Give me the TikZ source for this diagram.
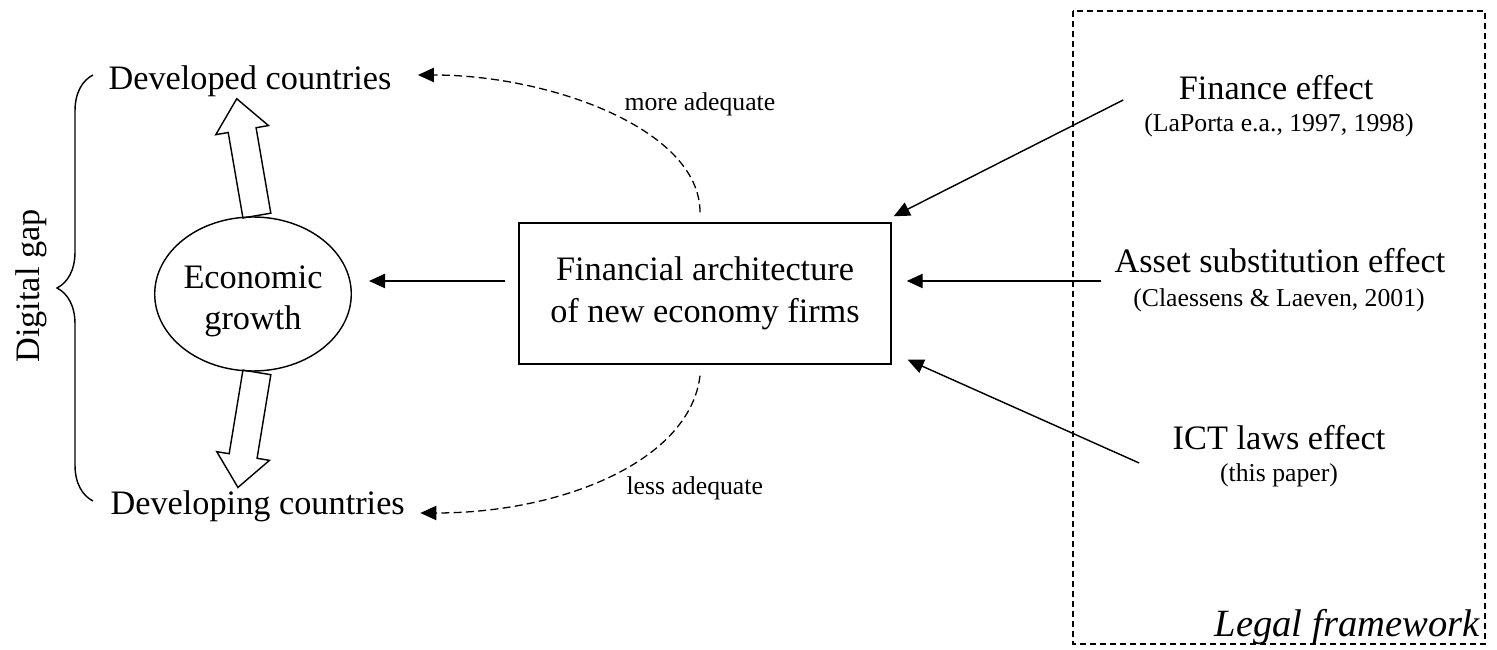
\documentclass[tikz,border=0pt]{standalone}
\usepackage{fontspec}
\setmainfont{Liberation Serif}
\usetikzlibrary{arrows.meta,calc,shapes.geometric,shapes.arrows,decorations.pathreplacing}

\tikzset{
  txt/.style={inner sep=0pt, font=\fontsize{12}{14.5}\selectfont},
  small/.style={inner sep=0pt, font=\fontsize{9}{11}\selectfont},
  arr/.style={line width=0.5pt, -{Triangle[length=5.6pt,width=5pt]}},
  adeq/.style={line width=0.45pt, dash pattern=on 2.8pt off 1.5pt, -{Triangle[length=5.6pt,width=5pt]}},
  fat/.style={single arrow, draw, line width=0.5pt, minimum height=#1, text height=0pt, text depth=0pt,
    inner xsep=0pt, inner ysep=4.7pt, single arrow head extend=4.4pt, single arrow tip angle=80,
    sloped, allow upside down, pos=0, anchor=tail}
}

\begin{document}
\begin{tikzpicture}[x=0.35pt,y=-0.35pt]
\useasboundingbox (0,0) rectangle (1497,650);

\node[txt, ellipse, draw, line width=0.5pt, minimum width=67.2pt, minimum height=53.9pt, align=center] (eg) at (253,294) {\rule{0pt}{13pt}Economic\\growth};
\node[txt, draw, line width=0.5pt, minimum width=130.2pt, minimum height=49.35pt, align=center] (fa) at (705,293.5) {Financial architecture\\of new economy firms};

\node[txt, anchor=base west] (dev) at (108,90) {Developed countries};
\node[txt, anchor=base west] (devg) at (110,515) {Developing countries};
\node[txt, rotate=90] (gap) at (31,286) {Digital gap};
\draw[line width=0.5pt, decorate, decoration={brace,amplitude=12.6pt}] (93,501) -- (93,75);

\path ($(eg.north)+(4,0)$) -- node[fat=41.5pt] (upar) {} ($(dev.base)+(-13,10)$);
\path ($(eg.south)+(4,0)$) -- node[fat=40.8pt] (downar) {} ($(devg.base)+(-19.5,-29)$);

\draw[adeq] ($(fa.north)+(-5,-10)$) .. controls +(0,-83) and +(132,0) .. ($(dev.base east)+(26,-15)$);
\draw[adeq] ($(fa.south)+(-5,11)$) .. controls +(-10,85) and +(142,0) .. ($(devg.base east)+(15,-2)$);
\node[small, anchor=base west] (more) at (624,111) {more adequate};
\node[small, anchor=base west] (less) at (626,495) {less adequate};

\node[txt, anchor=base] (fin) at (1276,100) {Finance effect};
\node[small, anchor=base] (finref) at (1279,132) {(LaPorta e.a., 1997, 1998)};
\node[txt, anchor=base] (asset) at (1280,273) {Asset substitution effect};
\node[small, anchor=base] (assetref) at (1279,307) {(Claessens \& Laeven, 2001)};
\node[txt, anchor=base] (ict) at (1279,450) {ICT laws effect};
\node[small, anchor=base] (ictref) at (1279,482) {(this paper)};

\draw[arr] ($(fin.base west)+(-55,0)$) -- ($(fa.north east)+(2,-6)$);
\draw[arr] ($(asset.base west)+(-13,8)$) -- ($(fa.east)+(15,-12.5)$);
\draw[arr] ($(ict.base west)+(-33,13)$) -- ($(fa.south east)+(16,-5)$);
\draw[arr] ($(fa.west)+(-13,-12.5)$) -- ($(eg.east)+(17,-13)$);

\draw[line width=0.5pt, dash pattern=on 2.1pt off 1.4pt] (1073,11) rectangle (1485,644);
\node[anchor=base east, inner sep=0pt, font=\fontsize{13.5}{16}\selectfont\itshape] (legal) at (1480,637) {Legal framework};
\end{tikzpicture}
\end{document}
